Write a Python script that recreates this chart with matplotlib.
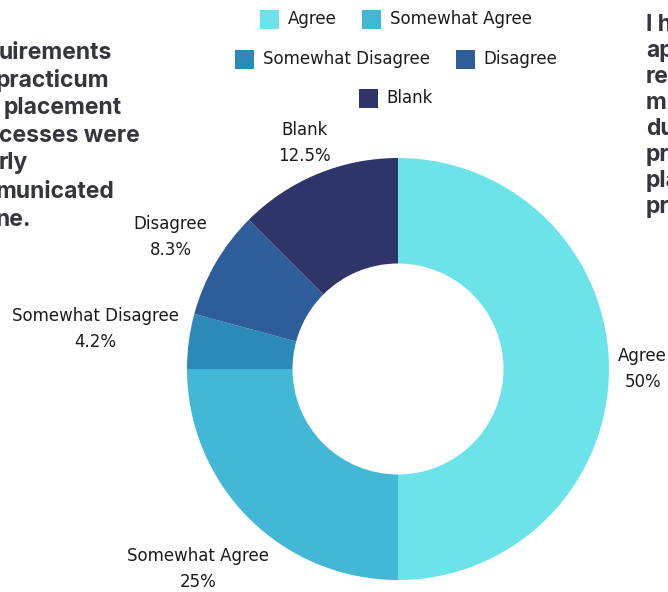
import numpy as np
import matplotlib
matplotlib.use("Agg")
import matplotlib.pyplot as plt
from matplotlib.patches import Rectangle

categories = ["Agree", "Somewhat Agree", "Somewhat Disagree", "Disagree", "Blank"]
shares = [50.0, 25.0, 4.2, 8.3, 12.5]
share_labels = ["50%", "25%", "4.2%", "8.3%", "12.5%"]
colors = ["#6be3e8", "#43b8d6", "#2b8ab8", "#2d5e99", "#2f346b"]

W, H = 668, 592
fig = plt.figure(figsize=(W / 100, H / 100), dpi=100)
ax = fig.add_axes([0, 0, 1, 1])
ax.set_xlim(0, W)
ax.set_ylim(0, H)
ax.set_aspect("equal")
ax.axis("off")

label_font = "DejaVu Sans"
label_size = 12
side_font = "Inter"
text_dark = "#1b1b1b"
side_color = "#34353d"

cx, cy, R = 398, 223, 211
wedges, _ = ax.pie(shares, colors=colors, startangle=90, counterclock=False,
                   radius=R, center=(cx, cy),
                   wedgeprops=dict(width=R * 0.5, linewidth=0))
ax.set_xlim(0, W)
ax.set_ylim(0, H)

# slice labels, pushed out along each wedge's mid-angle
label_dist = [1.16, 1.34, 1.448, 1.246, 1.16]
for w, name, pct, d in zip(wedges, categories, share_labels, label_dist):
    mid = np.deg2rad((w.theta1 + w.theta2) / 2)
    x = cx + d * R * np.cos(mid)
    y = cy + d * R * np.sin(mid)
    ax.text(x, y, f"{name}\n{pct}", ha="center", va="center", fontsize=label_size,
            family=label_font, color=text_dark, linespacing=1.55)

# legend rows
rows = [[0, 1], [2, 3], [4]]
row_y = [H - 19, H - 59, H - 98]
sw = 19
gap_txt = 9
gap_item = 26
rend = fig.canvas.get_renderer()
for row, yy in zip(rows, row_y):
    items = []
    total = 0
    for i in row:
        t = ax.text(0, yy, categories[i], fontsize=label_size, family=label_font,
                    color=text_dark, va="center", ha="left")
        bb = t.get_window_extent(renderer=rend)
        items.append((i, t, bb.width))
        total += sw + gap_txt + bb.width
    total += gap_item * (len(row) - 1)
    x0 = 396 - total / 2
    for i, t, tw in items:
        ax.add_patch(Rectangle((x0, yy - sw / 2), sw, sw, color=colors[i], lw=0))
        t.set_x(x0 + sw + gap_txt)
        x0 += sw + gap_txt + tw + gap_item

# neighbouring text blocks at the page edges
left_lines = ["uirements", "practicum", "placement", "cesses were", "rly",
              "municated", "ne."]
left_x = [-1, -4, 4, -1, -1, -4, -4]
left_y = [53, 81, 108, 136, 163, 192, 220]
for s, x, y in zip(left_lines, left_x, left_y):
    ax.text(x, H - y, s, fontsize=16.5, fontweight="bold", family=side_font,
            color=side_color, ha="left", va="center")

right_lines = ["I have", "applied", "relevant", "m", "during",
               "practicum", "placement", "processes"]
right_y = [25, 51, 77, 103, 129, 155, 181, 207]
for s, y in zip(right_lines, right_y):
    ax.text(646, H - y, s, fontsize=16.5, fontweight="bold", family=side_font,
            color=side_color, ha="left", va="center")

fig.savefig("out.png", dpi=100)
